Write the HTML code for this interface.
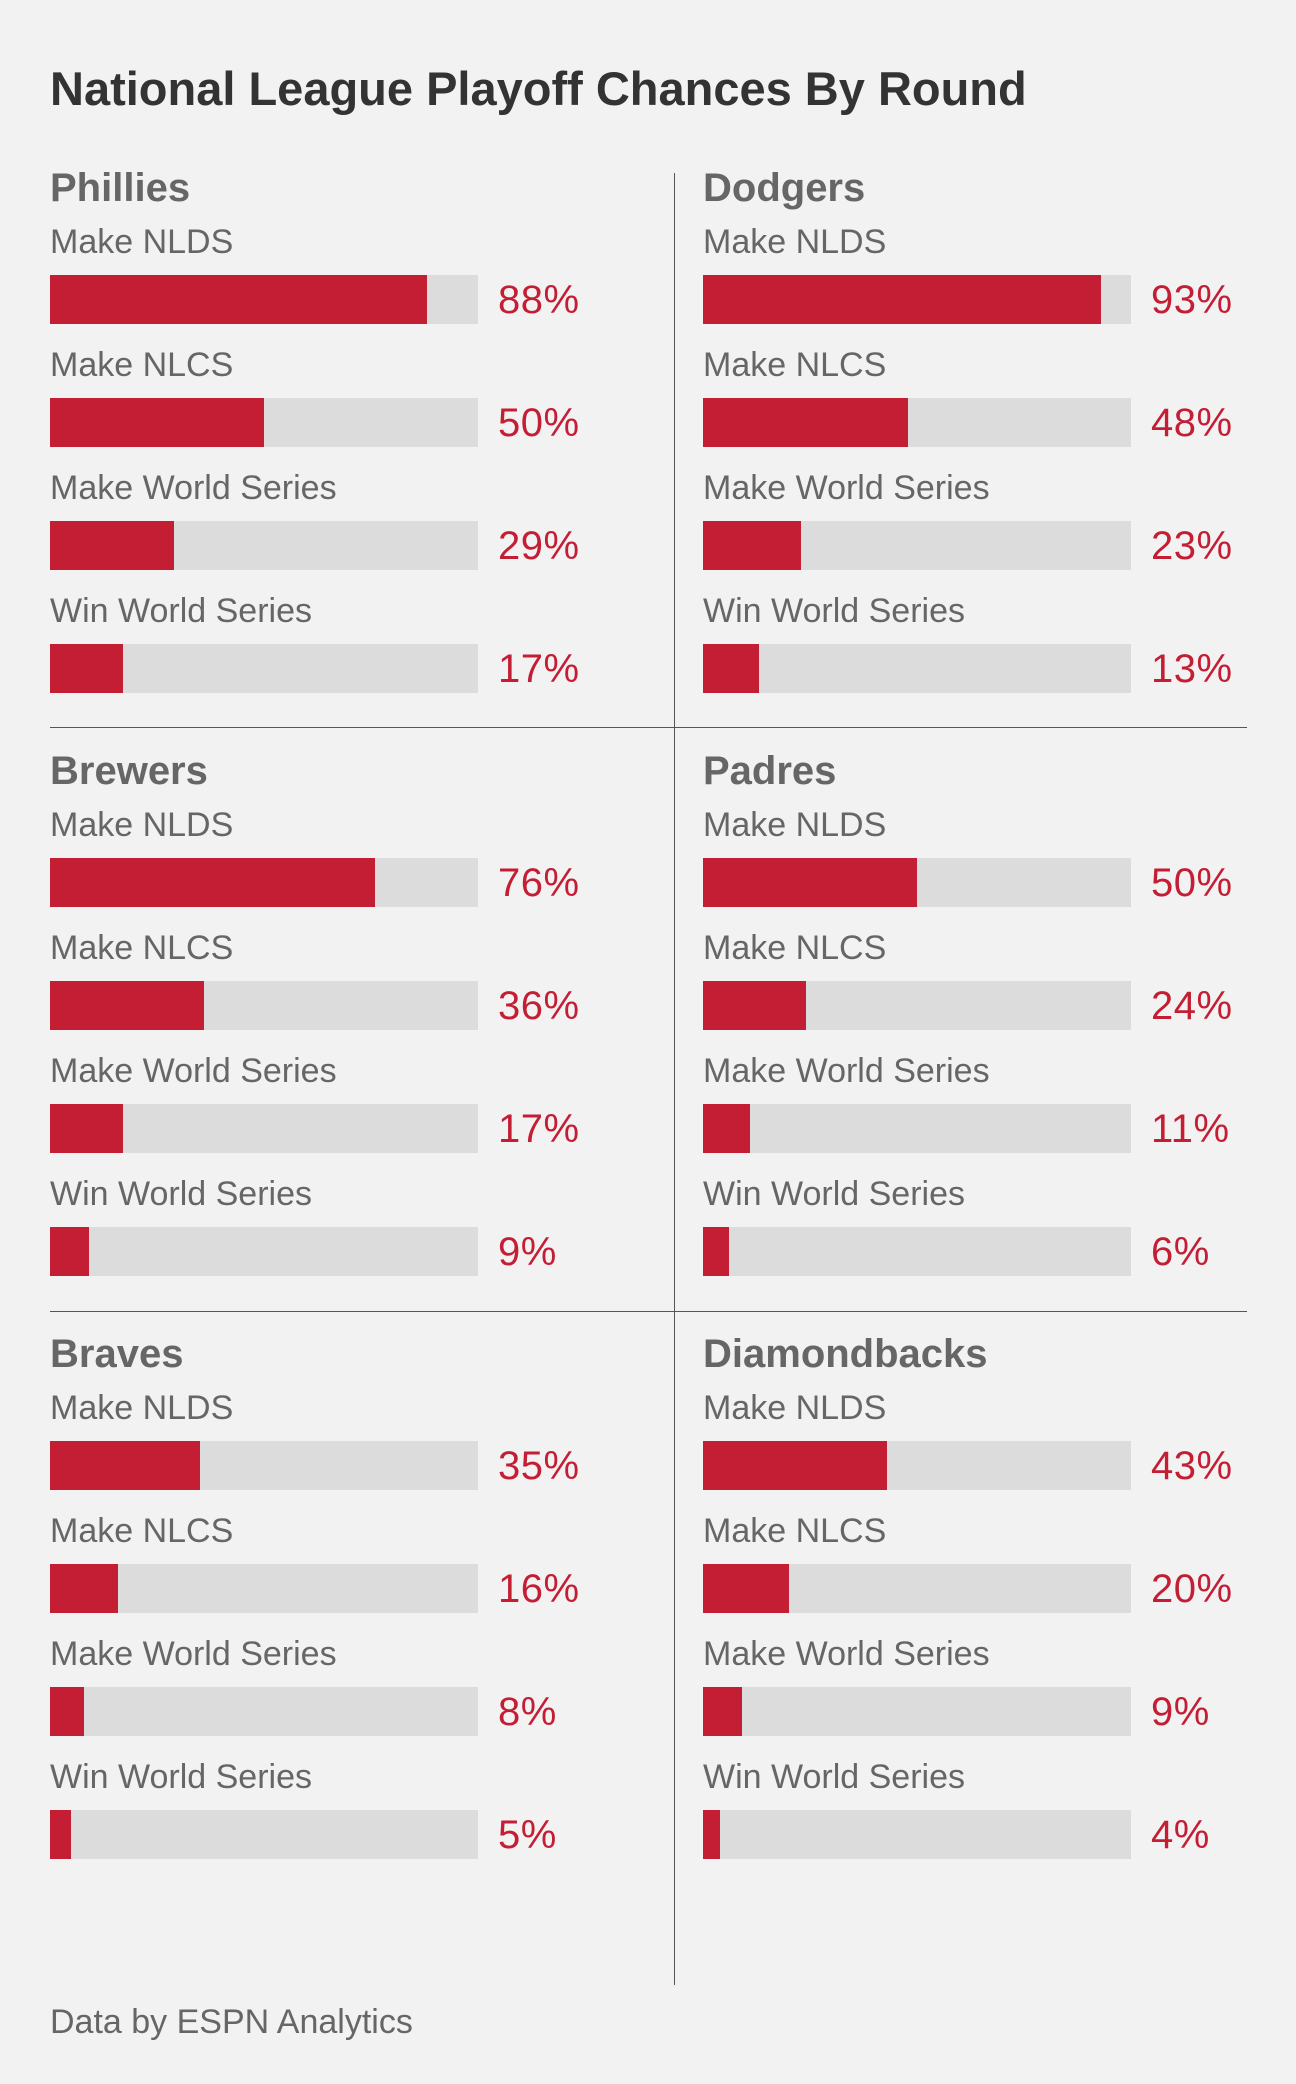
<!DOCTYPE html>
<html><head><meta charset="utf-8"><style>
body{margin:0;background:#f2f2f2;font-family:"Liberation Sans",sans-serif;}
#root{position:relative;width:1296px;height:2084px;background:#f2f2f2;overflow:hidden;}
.t{position:absolute;white-space:nowrap;}
</style></head><body>
<div id="root">
<div class="t" style="left:50px;top:61px;font-size:47px;font-weight:bold;color:#333;">National League Playoff Chances By Round</div>
<div style="position:absolute;left:674px;top:173px;width:1px;height:1812px;background:#555;"></div>
<div style="position:absolute;left:50px;top:727px;width:1197px;height:1px;background:#555;"></div>
<div style="position:absolute;left:50px;top:1311px;width:1197px;height:1px;background:#555;"></div>
<div class="t" style="left:50px;top:2003px;font-size:34px;color:#666;">Data by ESPN Analytics</div>
</div>
<script>
const teams=["Phillies","Dodgers","Brewers","Padres","Braves","Diamondbacks"];
const rounds=["Make NLDS","Make NLCS","Make World Series","Win World Series"];
const phillies=[88,50,29,17];
const dodgers=[93,48,23,13];
const brewers=[76,36,17,9];
const padres=[50,24,11,6];
const braves=[35,16,8,5];
const diamondbacks=[43,20,9,4];
const values=[phillies,dodgers,brewers,padres,braves,diamondbacks];
const root=document.getElementById('root');
const trackW=428;
function xScale(v){return v/100*trackW;}
teams.forEach((team,i)=>{
  const col=i%2,row=Math.floor(i/2);
  const x0=col?703:50, y0=row*583;
  const slug=team.toLowerCase();
  const name=document.createElement('div');
  name.className='t';
  
  
  name.style.cssText=`left:${x0}px;top:${y0+166}px;font-size:40px;font-weight:bold;color:#666;`;
  name.textContent=team;root.appendChild(name);
  rounds.forEach((r,j)=>{
    const by=y0+275+j*123;
    const lab=document.createElement('div');
    lab.className='t';
    
    
    lab.style.cssText=`left:${x0}px;top:${by-52}px;font-size:34px;color:#666;`;
    lab.textContent=r;root.appendChild(lab);
    const tr=document.createElement('div');
    
    
    tr.style.cssText=`position:absolute;left:${x0}px;top:${by}px;width:${trackW}px;height:49px;background:#dcdcdc;`;
    root.appendChild(tr);
    const b=document.createElement('div');
    
    
    b.style.cssText=`position:absolute;left:${x0}px;top:${by}px;width:${xScale(values[i][j])}px;height:49px;background:#c41e35;`;
    root.appendChild(b);
    const p=document.createElement('div');
    p.className='t';
    
    
    p.style.cssText=`left:${x0+448}px;top:${by+3}px;font-size:40px;color:#c41e35;letter-spacing:0.5px;`;
    p.textContent=values[i][j]+'%';root.appendChild(p);
  });
});
</script>
</body></html>
